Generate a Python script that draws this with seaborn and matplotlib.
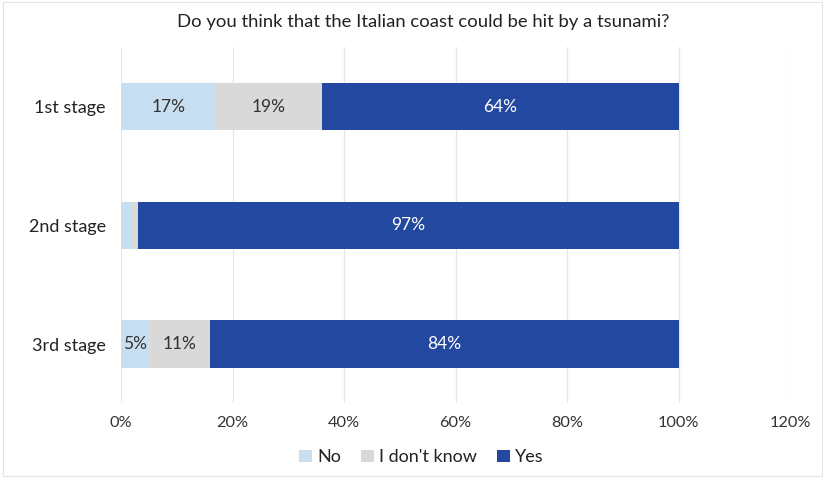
import matplotlib
matplotlib.use("Agg")
import matplotlib.pyplot as plt
import seaborn as sns
import pandas as pd
import numpy as np
from matplotlib.patches import Patch, Rectangle

stages = ["1st stage", "2nd stage", "3rd stage"]
no_vals = [17, 2, 5]
idk_vals = [19, 1, 11]
yes_vals = [64, 97, 84]
series_names = ["No", "I don't know", "Yes"]
colors = ["#c7dff0", "#d9d9d9", "#2348a0"]
text_colors = ["#333333", "#333333", "white"]
xticks = [0, 20, 40, 60, 80, 100, 120]

sns.set_theme(style="white")
plt.rcParams['font.family'] = ['Lato', 'DejaVu Sans']

df = pd.DataFrame({"stage": stages, "No": no_vals, "I don't know": idk_vals, "Yes": yes_vals})
df["c1"] = df["No"]
df["c2"] = df["No"] + df["I don't know"]
df["c3"] = df["c2"] + df["Yes"]

fig = plt.figure(figsize=(8.25, 4.78), dpi=100)
ax = fig.add_axes([0.1467, 0.156, 0.811, 0.745])

for col, color in zip(["c3", "c2", "c1"], colors[::-1]):
    sns.barplot(data=df, y="stage", x=col, color=color, orient="h", width=0.4,
                ax=ax, saturation=1, edgecolor="none", linewidth=0, zorder=3)

for i, st in enumerate(stages):
    left = 0
    for j, name in enumerate(series_names):
        v = df.loc[i, name]
        if v >= 4:
            ax.text(left + v / 2, i, f"{v}%", ha="center", va="center",
                    color=text_colors[j], fontsize=12.5, zorder=5)
        left += v

ax.set_xlim(0, 120)
ax.set_ylim(2.5, -0.5)
ax.set_xticks(xticks)
ax.set_xticklabels([f"{t}%" for t in xticks], fontsize=11.8, color="#333333")
ax.tick_params(axis="y", labelsize=13, colors="#222222", length=0, pad=11)
ax.tick_params(axis="x", length=0, pad=9)
ax.set_xlabel("")
ax.set_ylabel("")
ax.grid(axis="x", color="#e6e6e6", linewidth=0.9, zorder=0)
ax.grid(axis="y", visible=False)
for s in ax.spines.values():
    s.set_visible(False)

fig.text(0.513, 0.954, "Do you think that the Italian coast could be hit by a tsunami?",
         ha="center", va="center", fontsize=13.3, color="#222222")

handles = [Patch(facecolor=c, edgecolor="none") for c in colors]
fig.legend(handles, series_names, loc="center", bbox_to_anchor=(0.511, 0.043), ncol=3,
           frameon=False, fontsize=13, handlelength=0.7, handleheight=0.7,
           handletextpad=0.3, columnspacing=1.1, labelcolor="#222222")

fig.patches.append(Rectangle((0.004, 0.004), 0.992, 0.992, transform=fig.transFigure,
                             fill=False, edgecolor="#e4e4e4", linewidth=0.8))

fig.savefig("out.png", dpi=100)
